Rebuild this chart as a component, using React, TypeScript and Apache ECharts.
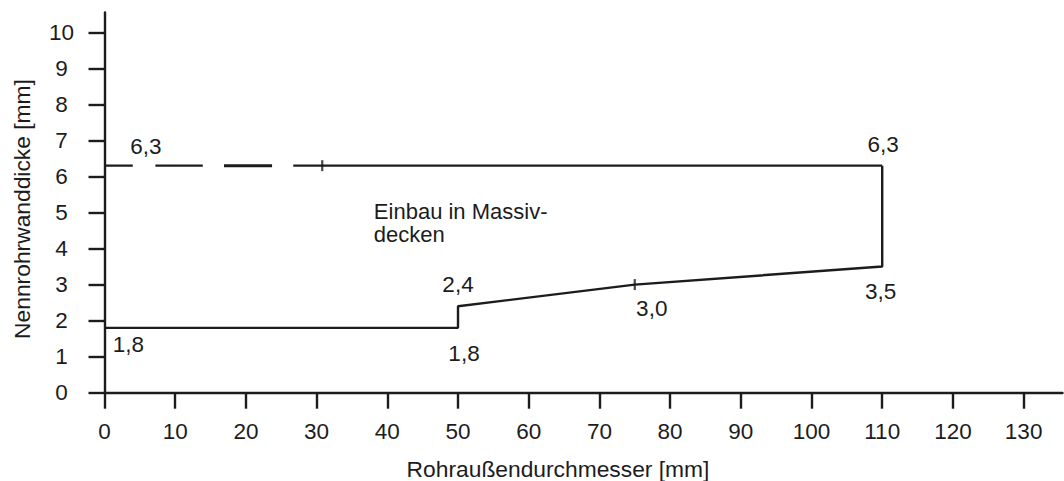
import React, { useEffect, useRef } from "react";
import * as echarts from "echarts";

// ---- data ----
const xTicks = [0, 10, 20, 30, 40, 50, 60, 70, 80, 90, 100, 110, 120, 130];
const yTicks = [0, 1, 2, 3, 4, 5, 6, 7, 8, 9, 10];

// lower boundary (solid)
const lowerX = [0, 50, 50, 75, 110, 110];
const lowerY = [1.8, 1.8, 2.4, 3.0, 3.5, 6.3];

// upper boundary at 6.3 mm: dashed at the start, then solid
const upperLevel = 6.3;
const upperSegStart = [0, 7.2, 16.9, 26.7];
const upperSegEnd = [4.0, 13.9, 23.7, 110];

// small cross marks on the boundaries
const markX = [30.8, 75];
const markY = [6.3, 3.0];

// value labels
const labelText = ["6,3", "6,3", "3,5", "2,4", "1,8", "3,0", "1,8"];
const labelX = [0, 110, 110, 50, 50, 75, 0];
const labelY = [6.3, 6.3, 3.5, 2.4, 1.8, 3.0, 1.8];

const areaText = "Einbau in Massiv-\ndecken";
const areaX = 38.1;
const areaY = 5.04;

const xTitle = "Rohraußendurchmesser [mm]";
const yTitle = "Nennrohrwanddicke [mm]";

export default function App() {
  const ref = useRef<HTMLDivElement>(null);

  useEffect(() => {
    if (!ref.current) return;
    const chart = echarts.init(ref.current, null, { renderer: "svg" });
    const ink = "#1c1c1c";
    const font = "Arial, 'Liberation Sans', Helvetica, sans-serif";
    const fs = 22.5;

    const labelOffsets: [number, number][] = [
      [41.5, -19],
      [1, -21],
      [-1.5, 25],
      [0, -22],
      [6, 25.5],
      [17, 24],
      [24, 17],
    ];

    const series: any[] = [];
    series.push({
      type: "line",
      data: lowerX.map((x, i) => [x, lowerY[i]]),
      symbol: "none",
      lineStyle: { color: ink, width: 2.4 },
      z: 3,
    });
    upperSegStart.forEach((s, i) => {
      series.push({
        type: "line",
        data: [
          [s, upperLevel],
          [upperSegEnd[i], upperLevel],
        ],
        symbol: "none",
        lineStyle: { color: ink, width: i === 2 ? 3 : 2.4 },
        z: 3,
      });
    });
    series.push({
      type: "scatter",
      data: markX.map((x, i) => [x, markY[i]]),
      symbol: "rect",
      symbolSize: [2.2, 11],
      itemStyle: { color: ink },
      z: 4,
    });
    series.push({
      type: "scatter",
      data: labelText.map((t, i) => ({
        value: [labelX[i], labelY[i]],
        label: {
          show: true,
          formatter: t,
          position: "inside",
          offset: labelOffsets[i],
          color: ink,
          opacity: 1,
          textBorderWidth: 0,
          fontSize: fs,
          fontFamily: font,
        },
      })),
      symbolSize: 1,
      itemStyle: { color: "rgba(255,255,255,0)" },
      z: 5,
    });
    series.push({
      type: "scatter",
      data: [
        {
          value: [areaX, areaY],
          label: {
            show: true,
            formatter: areaText,
            position: "inside",
            align: "left",
            verticalAlign: "top",
            offset: [0, -11.5],
            color: ink,
            opacity: 1,
            textBorderWidth: 0,
            fontSize: 22,
            lineHeight: 23,
            fontFamily: font,
          },
        },
      ],
      symbolSize: 1,
      itemStyle: { color: "rgba(255,255,255,0)" },
      z: 5,
    });

    chart.setOption({
      animation: false,
      backgroundColor: "#ffffff",
      grid: { left: 104.5, top: 12.5, width: 958, height: 380.2, containLabel: false },
      xAxis: {
        type: "value",
        min: 0,
        max: 135.5,
        interval: 10,
        splitLine: { show: false },
        axisLine: { show: true, onZero: false, lineStyle: { color: ink, width: 2.4 } },
        axisTick: {
          show: true,
          length: 16,
          inside: false,
          customValues: xTicks,
          lineStyle: { color: ink, width: 2.4 },
        },
        axisLabel: {
          customValues: xTicks,
          margin: 39,
          verticalAlign: "middle",
          color: ink,
          fontSize: fs,
          fontFamily: font,
          formatter: (v: number) => String(v),
        },
      },
      yAxis: {
        type: "value",
        min: 0,
        max: 10.55,
        interval: 1,
        splitLine: { show: false },
        axisLine: { show: true, onZero: false, lineStyle: { color: ink, width: 2.4 } },
        axisTick: {
          show: true,
          length: 16,
          inside: false,
          customValues: yTicks,
          lineStyle: { color: ink, width: 2.4 },
        },
        axisLabel: {
          customValues: yTicks,
          margin: 43,
          align: "center",
          color: ink,
          fontSize: fs,
          fontFamily: font,
          formatter: (v: number) => String(v),
        },
      },
      graphic: [
        {
          type: "text",
          x: 558,
          y: 469,
          style: {
            text: xTitle,
            fill: ink,
            fontSize: 22.8,
            fontFamily: font,
            textAlign: "center",
            textVerticalAlign: "middle",
          },
        },
        {
          type: "text",
          x: 22,
          y: 209,
          rotation: Math.PI / 2,
          style: {
            text: yTitle,
            fill: ink,
            fontSize: 22.8,
            fontFamily: font,
            textAlign: "center",
            textVerticalAlign: "middle",
          },
        },
      ],
      series,
    });

    return () => chart.dispose();
  }, []);

  return (
    <div
      ref={ref}
      style={{ position: "absolute", left: 0, top: 0, width: 1064, height: 481, background: "#fff" }}
    />
  );
}
